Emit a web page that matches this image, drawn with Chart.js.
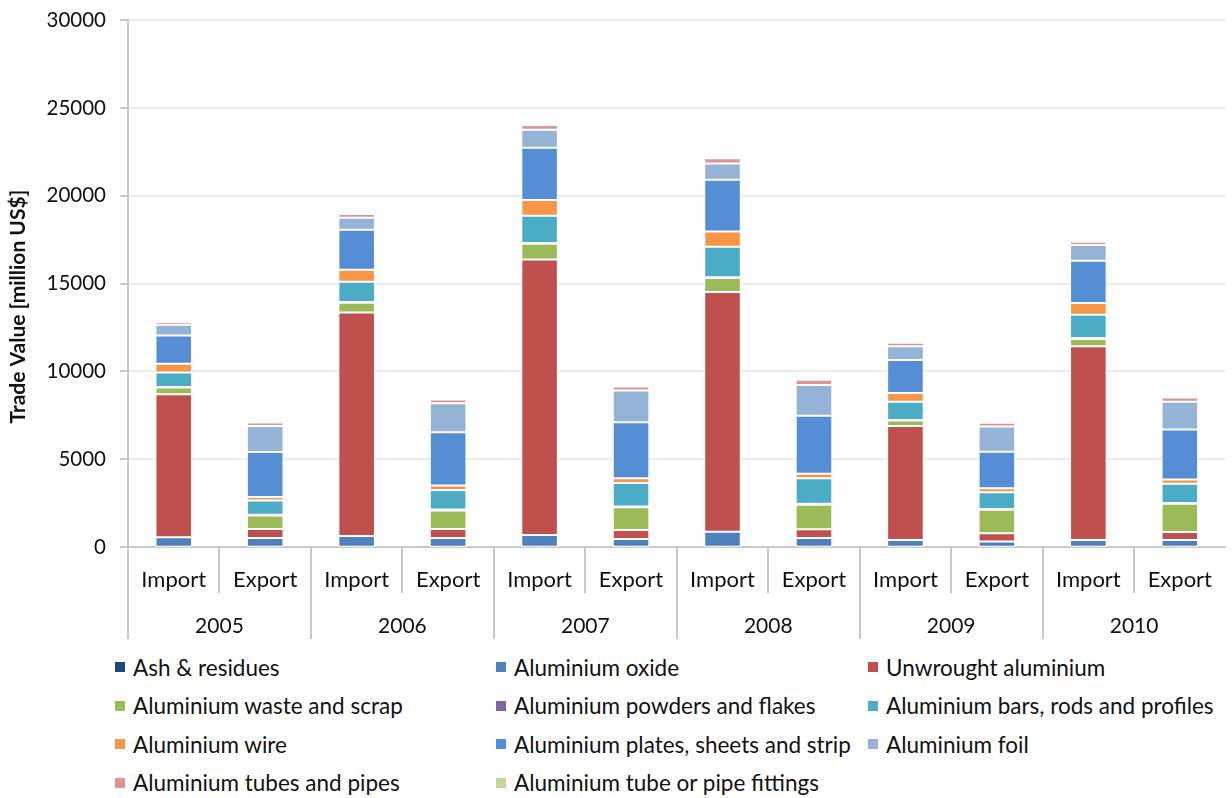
<!DOCTYPE html>
<html>
<head>
<meta charset="utf-8">
<script src="https://cdn.jsdelivr.net/npm/chart.js@4.4.1/dist/chart.umd.min.js"></script>
<style>
  html, body { margin: 0; padding: 0; background: #ffffff; overflow: hidden; }
  #wrap { position: relative; width: 1232px; height: 798px; font-family: Lato, "Open Sans", sans-serif; overflow: hidden; }
  #chartBox { position: absolute; left: 0; top: -6px; width: 1232px; height: 651px; }
  #legend { position: absolute; left: 115px; top: 648px; display: grid;
            grid-template-columns: 381px 372px 360px; grid-auto-rows: 38.5px; }
  .item { display: flex; align-items: center; font-size: 22.5px; color: #111; white-space: nowrap; }
  .sw { width: 10px; height: 10px; margin-right: 8px; flex: none; }
</style>
</head>
<body>
<div id="wrap">
  <div id="chartBox"><canvas id="c"></canvas></div>
  <div id="legend"></div>
</div>
<script>
const categories = ["Import","Export","Import","Export","Import","Export","Import","Export","Import","Export","Import","Export"];
const years = ["2005","2006","2007","2008","2009","2010"];
const yTicks = [0, 5000, 10000, 15000, 20000, 25000, 30000];
const yTitle = "Trade Value [million US$]";

const ashResidues    = [10, 10, 10, 10, 10, 10, 10, 10, 10, 10, 10, 10];
const aluOxide       = [540, 500, 620, 500, 670, 450, 860, 500, 390, 300, 390, 390];
const unwrought      = [8150, 510, 12720, 510, 15700, 510, 13650, 500, 6490, 470, 11030, 460];
const wasteScrap     = [380, 780, 560, 1060, 890, 1290, 800, 1400, 310, 1340, 420, 1600];
const powdersFlakes  = [40, 40, 50, 50, 50, 50, 50, 50, 40, 40, 50, 50];
const barsRods       = [820, 810, 1150, 1110, 1550, 1330, 1730, 1460, 1040, 960, 1330, 1090];
const wire           = [500, 200, 680, 270, 900, 270, 870, 250, 490, 220, 670, 240];
const plates         = [1600, 2560, 2280, 3020, 2970, 3200, 2950, 3300, 1880, 2080, 2400, 2850];
const foil           = [620, 1480, 680, 1660, 1020, 1800, 920, 1760, 780, 1440, 900, 1590];
const tubesPipes     = [150, 200, 220, 210, 270, 230, 300, 290, 200, 220, 190, 230];
const tubeFittings   = [30, 30, 30, 30, 30, 30, 30, 30, 30, 30, 30, 30];

const seriesNames = ["Ash & residues","Aluminium oxide","Unwrought aluminium","Aluminium waste and scrap",
  "Aluminium powders and flakes","Aluminium bars, rods and profiles","Aluminium wire",
  "Aluminium plates, sheets and strip","Aluminium foil","Aluminium tubes and pipes","Aluminium tube or pipe fittings"];
const seriesValues = [ashResidues, aluOxide, unwrought, wasteScrap, powdersFlakes, barsRods, wire, plates, foil, tubesPipes, tubeFittings];
const seriesColors = ["#1F497D","#4F81BD","#C0504D","#9BBB59","#8064A2","#4BACC6","#F79646","#558ED5","#95B3D7","#D99694","#C3D69B"];

const FONT = "Lato, 'Open Sans', sans-serif";

const datasets = seriesNames.map((name, i) => ({
  label: name,
  data: seriesValues[i],
  backgroundColor: seriesColors[i],
  borderColor: "#ffffff",
  borderWidth: 1,
  borderSkipped: false,
  barPercentage: 0.4,
  categoryPercentage: 1.0
}));

const separators = {
  id: "separators",
  afterDraw(chart) {
    const xs = chart.scales.x, x2 = chart.scales.x2, ys = chart.scales.y;
    const n = categories.length;
    const w = (xs.right - xs.left) / n;
    const ctx = chart.ctx;
    ctx.save();
    ctx.strokeStyle = "#c8c8c8";
    ctx.lineWidth = 2;
    for (let i = 0; i < n; i++) {
      const x = Math.round(xs.left + i * w);
      const yEnd = (i % 2 === 0) ? x2.bottom - 6 : xs.bottom;
      ctx.beginPath();
      ctx.moveTo(x, xs.top);
      ctx.lineTo(x, yEnd);
      ctx.stroke();
    }
    // y-axis title
    ctx.fillStyle = "#111";
    ctx.font = "bold 21px " + FONT;
    ctx.textAlign = "center";
    ctx.textBaseline = "middle";
    ctx.translate(18, (ys.top + ys.bottom) / 2 + 23);
    ctx.rotate(-Math.PI / 2);
    ctx.fillText(yTitle, 0, 0);
    ctx.restore();
  }
};

new Chart(document.getElementById("c"), {
  type: "bar",
  data: { labels: categories, datasets },
  options: {
    responsive: true,
    maintainAspectRatio: false,
    animation: false,
    layout: { padding: { top: 8, right: 0, left: 0, bottom: 0 } },
    plugins: { legend: { display: false }, tooltip: { enabled: false } },
    scales: {
      x: {
        stacked: true,
        grid: { display: true, drawOnChartArea: false, drawTicks: false, offset: true, color: "rgba(0,0,0,0)" },
        border: { display: true, color: "#c8c8c8", width: 2 },
        ticks: { color: "#111", font: { family: FONT, size: 22 }, padding: 20, maxRotation: 0, autoSkip: false },
        afterFit(s) { s.height = 46; }
      },
      x2: {
        type: "category",
        labels: years,
        position: "bottom",
        offset: true,
        grid: { display: false, drawTicks: false },
        border: { display: false },
        ticks: { color: "#111", font: { family: FONT, size: 21 }, padding: 21, maxRotation: 0, autoSkip: false },
        afterFit(s) { s.height = 52; }
      },
      y: {
        stacked: true,
        min: 0,
        max: 30000,
        afterBuildTicks(s) { s.ticks = yTicks.map(v => ({ value: v })); },
        grid: { color: "#ebebeb", lineWidth: 2, drawTicks: true, tickLength: 8, tickColor: "#c8c8c8" },
        border: { display: true, color: "#c8c8c8", width: 2 },
        ticks: { color: "#111", font: { family: FONT, size: 20.5 }, padding: 14, callback: v => String(v) },
        title: { display: false },
        afterFit(s) { s.width = 128; }
      }
    }
  },
  plugins: [separators]
});

const legend = document.getElementById("legend");
seriesNames.forEach((name, i) => {
  const item = document.createElement("div");
  item.className = "item";
  const sw = document.createElement("span");
  sw.className = "sw";
  sw.style.background = seriesColors[i];
  const tx = document.createElement("span");
  tx.textContent = name;
  item.appendChild(sw);
  item.appendChild(tx);
  legend.appendChild(item);
});
</script>
</body>
</html>
